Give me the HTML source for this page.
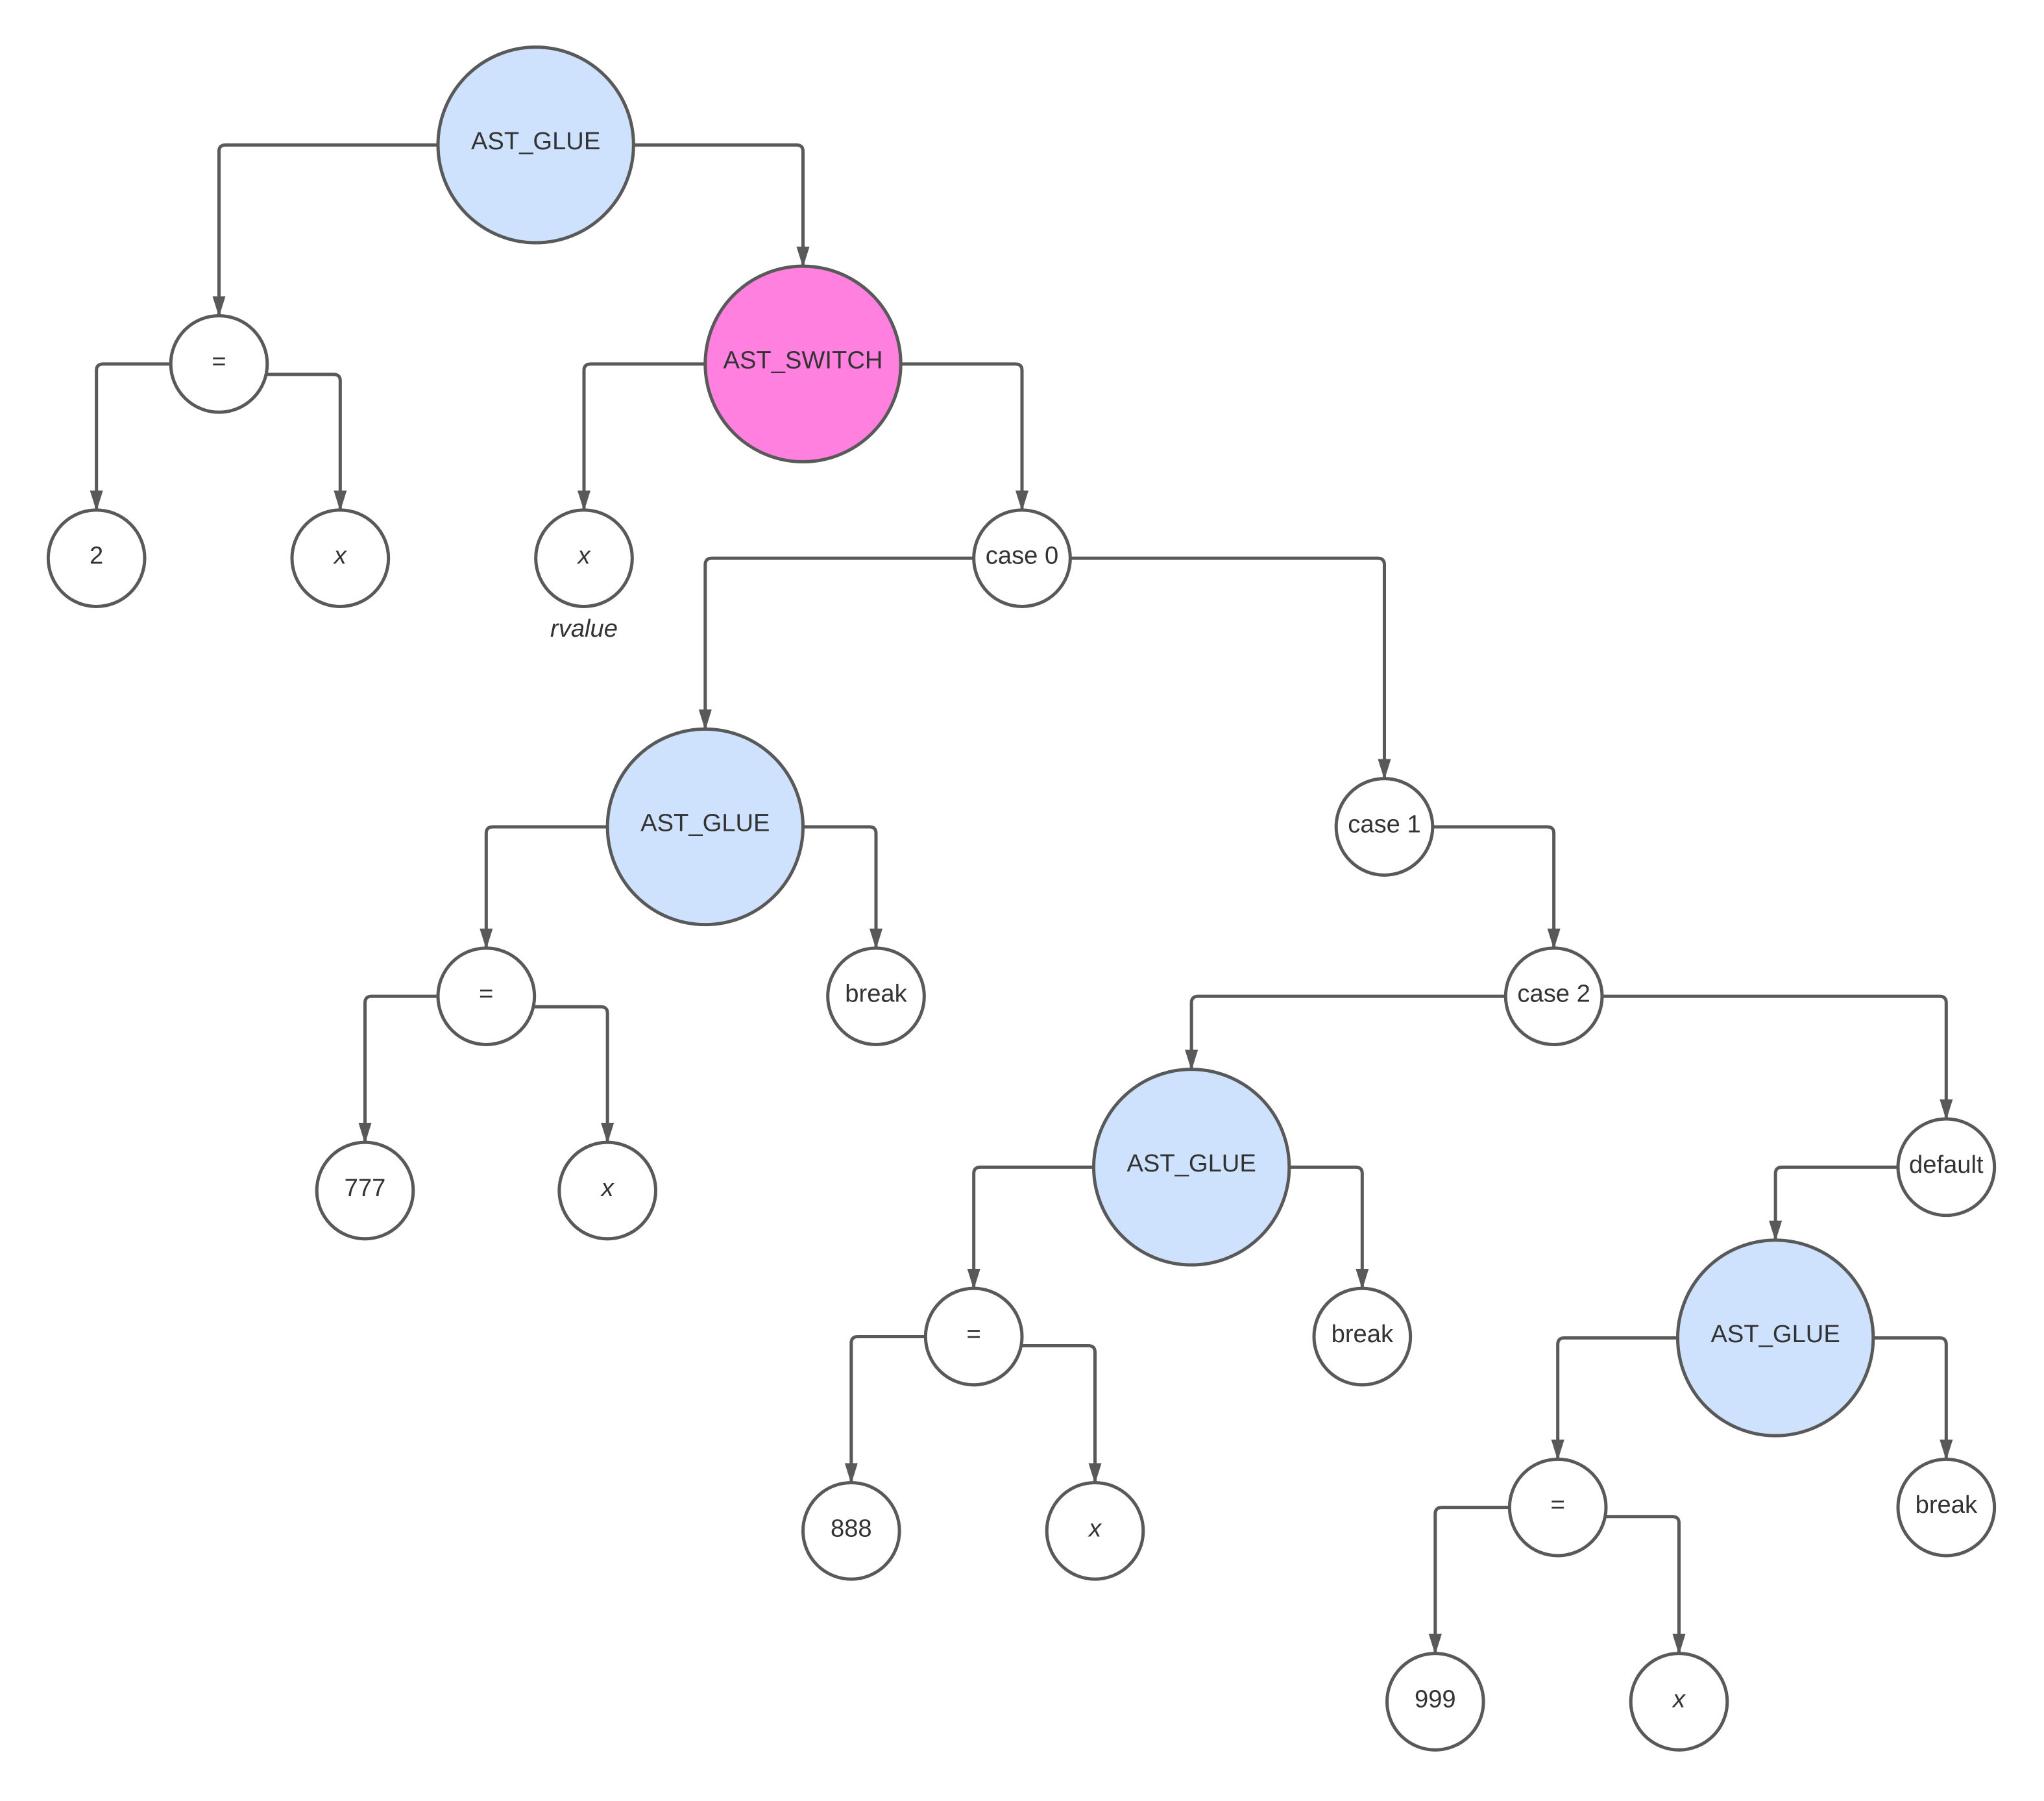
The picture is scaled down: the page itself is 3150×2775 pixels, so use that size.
<!DOCTYPE html>
<html><head><meta charset="utf-8"><style>html,body{margin:0;padding:0;background:#fff}svg{display:block}</style></head>
<body>
<svg xmlns="http://www.w3.org/2000/svg" width="3150" height="2775" viewBox="0 0 1568 1381">
<defs>
<marker id="b" markerWidth="16" markerHeight="12" refX="15" refY="6" orient="auto" markerUnits="userSpaceOnUse" viewBox="0 0 16 12"><path d="M0,1 L16,6 L0,11 z" fill="#595959"/></marker></defs>
<g fill="none" stroke="#595959" stroke-width="2.5" marker-end="url(#b)">
<path d="M336,111 H173 Q168,111 168,116 V242"/>
<path d="M486,111 H611 Q616,111 616,116 V204"/>
<path d="M131,279 H79 Q74,279 74,284 V391"/>
<path d="M205,287 H256 Q261,287 261,292 V391"/>
<path d="M541,279 H453 Q448,279 448,284 V391"/>
<path d="M691,279 H779 Q784,279 784,284 V391"/>
<path d="M747,428 H546 Q541,428 541,433 V559"/>
<path d="M821,428 H1057 Q1062,428 1062,433 V597"/>
<path d="M466,634 H378 Q373,634 373,639 V727"/>
<path d="M616,634 H667 Q672,634 672,639 V727"/>
<path d="M336,764 H285 Q280,764 280,769 V876"/>
<path d="M410,772 H461 Q466,772 466,777 V876"/>
<path d="M1099,634 H1187 Q1192,634 1192,639 V727"/>
<path d="M1155,764 H919 Q914,764 914,769 V820"/>
<path d="M1229,764 H1488 Q1493,764 1493,769 V858"/>
<path d="M839,895 H752 Q747,895 747,900 V988"/>
<path d="M989,895 H1040 Q1045,895 1045,900 V988"/>
<path d="M710,1025 H658 Q653,1025 653,1030 V1137"/>
<path d="M784,1032 H835 Q840,1032 840,1037 V1137"/>
<path d="M1456,895 H1367 Q1362,895 1362,900 V951"/>
<path d="M1287,1026 H1200 Q1195,1026 1195,1031 V1119"/>
<path d="M1437,1026 H1488 Q1493,1026 1493,1031 V1119"/>
<path d="M1158,1156 H1106 Q1101,1156 1101,1161 V1268"/>
<path d="M1232,1163 H1283 Q1288,1163 1288,1168 V1268"/>
</g>
<g stroke="#595959" stroke-width="2.5">
<circle cx="411" cy="111" r="75" fill="#cfe2fd"/>
<circle cx="616" cy="279" r="75" fill="#ff80de"/>
<circle cx="541" cy="634" r="75" fill="#cfe2fd"/>
<circle cx="914" cy="895" r="75" fill="#cfe2fd"/>
<circle cx="1362" cy="1026" r="75" fill="#cfe2fd"/>
<g fill="#fff">
<circle cx="168" cy="279" r="37"/><circle cx="74" cy="428" r="37"/><circle cx="261" cy="428" r="37"/>
<circle cx="448" cy="428" r="37"/><circle cx="784" cy="428" r="37"/>
<circle cx="373" cy="764" r="37"/><circle cx="280" cy="913" r="37"/><circle cx="466" cy="913" r="37"/>
<circle cx="672" cy="764" r="37"/><circle cx="1062" cy="634" r="37"/><circle cx="1192" cy="764" r="37"/>
<circle cx="747" cy="1025" r="37"/><circle cx="653" cy="1174" r="37"/><circle cx="840" cy="1174" r="37"/>
<circle cx="1045" cy="1025" r="37"/><circle cx="1493" cy="895" r="37"/>
<circle cx="1195" cy="1156" r="37"/><circle cx="1101" cy="1305" r="37"/><circle cx="1288" cy="1305" r="37"/>
<circle cx="1493" cy="1156" r="37"/>
</g></g>
<g font-family="Liberation Sans, sans-serif" font-size="19" fill="#333" text-anchor="middle" dominant-baseline="central">
<text x="411" y="108">AST_GLUE</text>
<text x="616" y="276">AST_SWITCH</text>
<text x="541" y="631">AST_GLUE</text>
<text x="914" y="892">AST_GLUE</text>
<text x="1362" y="1023">AST_GLUE</text>
<text x="168" y="277">=</text><text x="74" y="426">2</text><text x="261" y="426" font-style="italic">x</text>
<text x="448" y="426" font-style="italic">x</text><text x="448" y="482" font-style="italic">rvalue</text>
<text x="784" y="426">case 0</text>
<text x="373" y="762">=</text><text x="280" y="911">777</text><text x="466" y="911" font-style="italic">x</text>
<text x="672" y="762">break</text><text x="1062" y="632">case 1</text><text x="1192" y="762">case 2</text>
<text x="747" y="1023">=</text><text x="653" y="1172">888</text><text x="840" y="1172" font-style="italic">x</text>
<text x="1045" y="1023">break</text><text x="1493" y="893">default</text>
<text x="1195" y="1154">=</text><text x="1101" y="1303">999</text><text x="1288" y="1303" font-style="italic">x</text>
<text x="1493" y="1154">break</text>
</g>
</svg>
</body></html>
